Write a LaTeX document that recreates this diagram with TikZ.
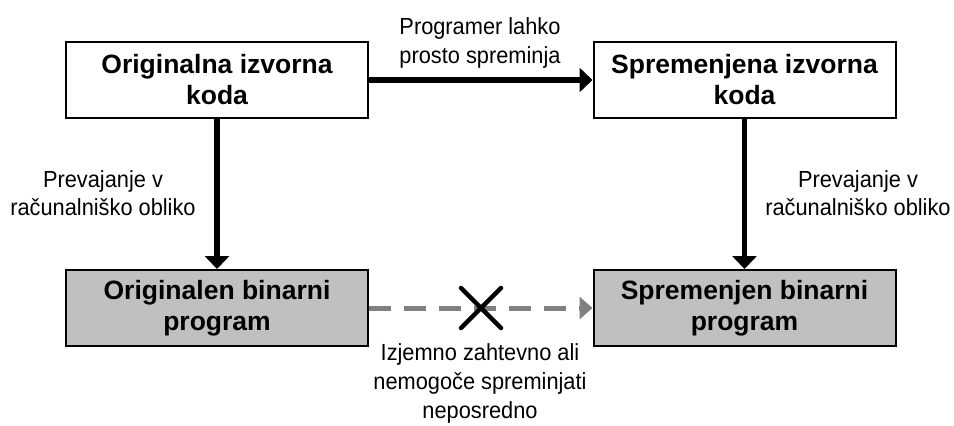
\documentclass[tikz,border=0pt]{standalone}
\usepackage{fontspec}
\setmainfont{Liberation Sans}
\newfontfamily\lblfont[FakeStretch=0.935]{Liberation Sans}
\usetikzlibrary{arrows.meta,calc}
\begin{document}
\begin{tikzpicture}[x=1pt,y=-1pt,
  box/.style={draw=black,line width=2pt,minimum width=302pt,minimum height=76pt,
    inner sep=0pt,align=center,font=\fontsize{26.5}{31}\selectfont\bfseries},
  srcbox/.style={box,fill=white},
  binbox/.style={box,fill=binfill},
  lbl/.style={align=center,inner sep=0pt,font=\lblfont\fontsize{23.3}{28.5}\selectfont},
  flow/.style={line width=5.5pt,-{Triangle[length=13pt,width=24pt]}},
  noflow/.style={line width=5pt,draw=dashgray,dash pattern=on 22pt off 13pt,
    -{Triangle[length=13pt,width=22pt,fill=dashgray]}},
]
\definecolor{binfill}{RGB}{192,192,192}
\definecolor{dashgray}{RGB}{128,128,128}
\useasboundingbox (0,0) rectangle (954,426);
\fill[white] (0,0) rectangle (954,426);

% source code boxes
\node[srcbox] (src)  at (217,80)   {Originalna izvorna\\koda};
\node[srcbox] (msrc) at (744.5,80) {Spremenjena izvorna\\koda};
% binary program boxes
\node[binbox] (bin)  at (217,308)   {Originalen binarni\\program};
\node[binbox] (mbin) at (744.5,308) {Spremenjen binarni\\program};

% edits to the source
\draw[flow] (src.east) -- (msrc.west);
\node[lbl] (editlbl) at (480,43) {Programer lahko\\prosto spreminja};

% compilation
\draw[flow] (src.south) -- (bin.north);
\draw[flow] (msrc.south) -- (mbin.north);
\node[lbl] (comp1) at (103,193) {Prevajanje v\\računalniško obliko};
\node[lbl] (comp2) at (858,193) {Prevajanje v\\računalniško obliko};

% direct binary change, crossed out
\draw[noflow] (bin.east) -- (mbin.west);
\coordinate (xc) at (481,308);
\draw[line width=4.5pt,line cap=round] ($(xc)+(-20,-20)$) -- ($(xc)+(20,20)$)
  ($(xc)+(-20,20)$) -- ($(xc)+(20,-20)$);
\node[lbl,font=\lblfont\fontsize{23.3}{29}\selectfont] (hardlbl) at (480,383)
  {Izjemno zahtevno ali\\nemogoče spreminjati\\neposredno};
\end{tikzpicture}
\end{document}
